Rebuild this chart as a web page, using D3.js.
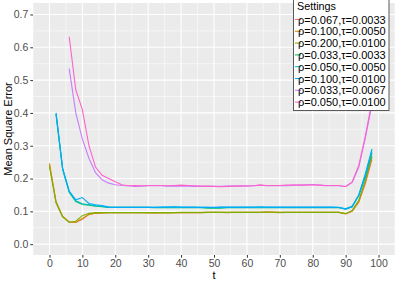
<!DOCTYPE html>
<html>
<head>
<meta charset="utf-8">
<script src="https://cdn.jsdelivr.net/npm/d3@7"></script>
<style>
  body { margin: 0; background: #fff; }
  svg { display: block; font-family: "Liberation Sans", Arial, sans-serif; }
</style>
</head>
<body>
<svg id="chart" width="399" height="284"></svg>
<script>
// t values (step 2)
const t_values = [0,2,4,6,8,10,12,14,16,18,20,22,24,26,28,30,32,34,36,38,40,42,44,46,48,
  50,52,54,56,58,60,62,64,66,68,70,72,74,76,78,80,82,84,86,88,90,92,94,96,98];

const settings = ["ρ=0.067,τ=0.0033","ρ=0.100,τ=0.0050","ρ=0.200,τ=0.0100","ρ=0.033,τ=0.0033",
  "ρ=0.050,τ=0.0050","ρ=0.100,τ=0.0100","ρ=0.033,τ=0.0067","ρ=0.050,τ=0.0100"];
const colors = ["#F8766D","#CD9600","#7CAE00","#00BE67","#00BFC4","#00A9FF","#C77CFF","#FF61CC"];

const mse_0 = [0.243,0.128,0.084,0.067,0.066,0.076,0.090,0.094,0.095,0.096,
  0.096,0.096,0.096,0.096,0.096,0.096,0.095,0.096,0.096,0.096,
  0.096,0.096,0.096,0.096,0.097,0.097,0.097,0.096,0.097,0.097,
  0.097,0.097,0.097,0.098,0.097,0.097,0.097,0.097,0.097,0.097,
  0.097,0.097,0.097,0.097,0.097,0.092,0.100,0.128,0.185,0.258];
const mse_1 = [0.246,0.130,0.085,0.068,0.067,0.078,0.091,0.094,0.095,0.096,
  0.096,0.096,0.096,0.096,0.096,0.095,0.095,0.095,0.095,0.096,
  0.096,0.096,0.096,0.096,0.097,0.097,0.097,0.097,0.097,0.097,
  0.097,0.097,0.097,0.098,0.097,0.096,0.097,0.097,0.097,0.097,
  0.097,0.097,0.097,0.097,0.097,0.093,0.101,0.130,0.190,0.265];
const mse_2 = [0.236,0.126,0.083,0.067,0.070,0.087,0.094,0.096,0.096,0.096,
  0.096,0.096,0.096,0.096,0.096,0.096,0.096,0.096,0.096,0.096,
  0.097,0.097,0.097,0.097,0.097,0.097,0.097,0.097,0.097,0.097,
  0.097,0.097,0.097,0.098,0.098,0.097,0.097,0.097,0.097,0.097,
  0.097,0.097,0.097,0.097,0.097,0.093,0.103,0.134,0.195,0.270];
const mse_3 = [null,0.395,0.228,0.158,0.130,0.121,0.119,0.116,0.114,0.112,
  0.112,0.112,0.112,0.112,0.112,0.112,0.111,0.111,0.111,0.111,
  0.111,0.111,0.111,0.111,0.110,0.110,0.110,0.111,0.111,0.111,
  0.111,0.111,0.111,0.111,0.111,0.111,0.111,0.111,0.111,0.111,
  0.111,0.111,0.111,0.111,0.111,0.107,0.114,0.148,0.205,0.278];
const mse_4 = [null,0.398,0.230,0.160,0.132,0.123,0.120,0.117,0.115,0.113,
  0.112,0.112,0.112,0.112,0.112,0.112,0.112,0.112,0.113,0.113,
  0.112,0.112,0.112,0.112,0.112,0.111,0.112,0.112,0.112,0.112,
  0.112,0.112,0.112,0.112,0.112,0.112,0.112,0.112,0.112,0.112,
  0.112,0.112,0.112,0.112,0.112,0.108,0.116,0.150,0.210,0.283];
const mse_5 = [null,0.400,0.232,0.162,0.135,0.142,0.124,0.120,0.118,0.113,
  0.112,0.112,0.112,0.112,0.112,0.112,0.112,0.113,0.113,0.114,
  0.113,0.113,0.113,0.112,0.112,0.112,0.113,0.113,0.113,0.113,
  0.113,0.113,0.114,0.113,0.113,0.113,0.113,0.113,0.113,0.113,
  0.113,0.113,0.113,0.113,0.112,0.107,0.114,0.150,0.215,0.290];
const mse_6 = [null,null,null,0.535,0.400,0.320,0.262,0.218,0.196,0.186,
  0.181,0.179,0.178,0.176,0.177,0.178,0.178,0.178,0.177,0.177,
  0.177,0.177,0.176,0.176,0.177,0.176,0.176,0.177,0.177,0.177,
  0.178,0.178,0.180,0.178,0.178,0.178,0.178,0.179,0.180,0.181,
  0.182,0.180,0.178,0.178,0.178,0.175,0.188,0.235,0.325,0.425];
const mse_7 = [null,null,null,0.632,0.470,0.410,0.300,0.235,0.210,0.200,
  0.190,0.181,0.178,0.179,0.178,0.179,0.179,0.179,0.178,0.179,
  0.180,0.179,0.178,0.177,0.176,0.176,0.175,0.176,0.177,0.178,
  0.177,0.178,0.180,0.179,0.179,0.179,0.180,0.181,0.180,0.180,
  0.181,0.180,0.179,0.179,0.179,0.176,0.190,0.240,0.330,0.435];
const series = [mse_0,mse_1,mse_2,mse_3,mse_4,mse_5,mse_6,mse_7];

const x_ticks = [0,10,20,30,40,50,60,70,80,90,100];
const y_ticks = [0,0.1,0.2,0.3,0.4,0.5,0.6,0.7];

const svg = d3.select("#chart");
const panel = {left: 33, right: 395, top: 3, bottom: 255};

const x = d3.scaleLinear().domain([-5, 105]).range([panel.left, panel.right]);
const y = d3.scaleLinear().domain([-0.033, 0.735]).range([panel.bottom, panel.top]);

svg.append("rect")
  .attr("x", panel.left).attr("y", panel.top)
  .attr("width", panel.right - panel.left).attr("height", panel.bottom - panel.top)
  .attr("fill", "#EBEBEB");

// minor grid
const g_grid = svg.append("g");
g_grid.selectAll(".xminor").data(d3.range(-5, 106, 10)).enter().append("line")
  .attr("x1", d => x(d)).attr("x2", d => x(d))
  .attr("y1", panel.top).attr("y2", panel.bottom)
  .attr("stroke", "#fff").attr("stroke-width", 0.5);
g_grid.selectAll(".yminor").data([0.05,0.15,0.25,0.35,0.45,0.55,0.65]).enter().append("line")
  .attr("y1", d => y(d)).attr("y2", d => y(d))
  .attr("x1", panel.left).attr("x2", panel.right)
  .attr("stroke", "#fff").attr("stroke-width", 0.5);
// major grid
g_grid.selectAll(".xmajor").data(x_ticks).enter().append("line")
  .attr("x1", d => x(d)).attr("x2", d => x(d))
  .attr("y1", panel.top).attr("y2", panel.bottom)
  .attr("stroke", "#fff").attr("stroke-width", 1.1);
g_grid.selectAll(".ymajor").data(y_ticks).enter().append("line")
  .attr("y1", d => y(d)).attr("y2", d => y(d))
  .attr("x1", panel.left).attr("x2", panel.right)
  .attr("stroke", "#fff").attr("stroke-width", 1.1);

// lines
const line = d3.line()
  .defined(d => d[1] !== null)
  .x(d => x(d[0])).y(d => y(d[1]));
svg.append("g").selectAll("path").data(series).enter().append("path")
  .attr("d", s => line(s.map((v, i) => [t_values[i], v])))
  .attr("fill", "none")
  .attr("stroke", (s, i) => colors[i])
  .attr("stroke-width", 1.1);

// axes
const x_axis = svg.append("g").attr("transform", `translate(0,${panel.bottom})`)
  .call(d3.axisBottom(x).tickValues(x_ticks).tickSize(2.7).tickPadding(2));
const y_axis = svg.append("g").attr("transform", `translate(${panel.left},0)`)
  .call(d3.axisLeft(y).tickValues(y_ticks).tickSize(2.7).tickPadding(2).tickFormat(d3.format(".1f")));
[x_axis, y_axis].forEach(a => {
  a.select(".domain").remove();
  a.selectAll(".tick line").attr("stroke", "#333");
  a.selectAll(".tick text").attr("fill", "#4D4D4D").attr("font-size", 10.5)
    .attr("font-family", "Liberation Sans, Arial, sans-serif");
});

svg.append("text").attr("x", x(50)).attr("y", 279)
  .attr("text-anchor", "middle").attr("font-size", 11).text("t");
svg.append("text").attr("transform", `translate(12,${(panel.top + panel.bottom) / 2}) rotate(-90)`)
  .attr("text-anchor", "middle").attr("font-size", 11).text("Mean Square Error");

// legend
const lg = svg.append("g");
lg.append("rect").attr("x", 293.5).attr("y", -5).attr("width", 95.5).attr("height", 115.5)
  .attr("fill", "#fff").attr("stroke", "#333").attr("stroke-width", 0.8);
lg.append("text").attr("x", 297).attr("y", 10).attr("font-size", 10.8).text("Settings");
const rows = lg.selectAll(".row").data(settings).enter().append("g")
  .attr("transform", (d, i) => `translate(0,${19.5 + i * 11.8})`);
rows.append("line").attr("x1", 295).attr("x2", 301).attr("y1", 0).attr("y2", 0)
  .attr("stroke", (d, i) => colors[i]).attr("stroke-width", 1.1);
rows.append("text").attr("x", 298).attr("y", 4).attr("font-size", 11).text(d => d);
</script>
</body>
</html>
